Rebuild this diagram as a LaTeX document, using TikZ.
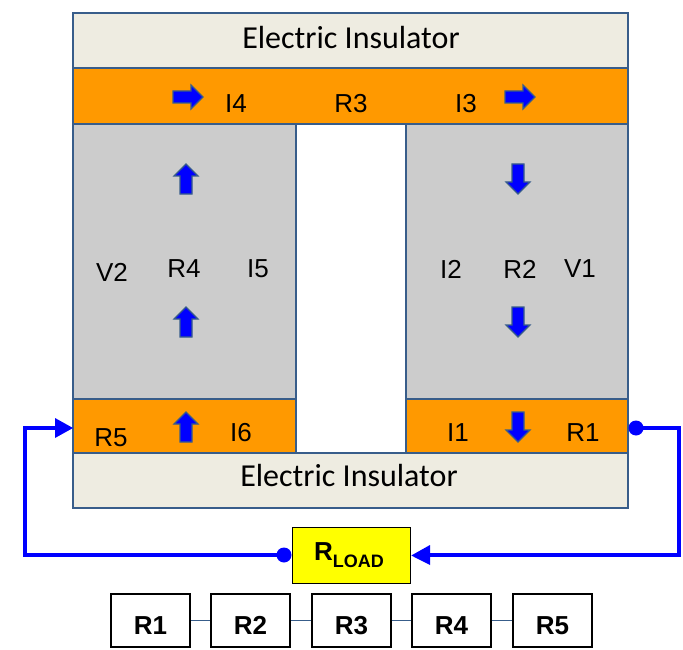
\documentclass[tikz,border=0pt]{standalone}
\usepackage{fontspec}
\setmainfont{Liberation Sans}
\newfontfamily\calib{Carlito}
\usetikzlibrary{arrows.meta}
\definecolor{insfill}{RGB}{238,236,225}
\definecolor{orng}{RGB}{255,153,0}
\definecolor{grayc}{RGB}{204,204,204}
\definecolor{edgec}{RGB}{56,93,138}
\definecolor{wireb}{RGB}{0,0,255}
\definecolor{loady}{RGB}{255,255,0}
\tikzset{
  blk/.style={draw=edgec, line width=1.3pt},
  lbl/.style={font=\fontsize{26}{26}\selectfont, inner sep=0pt, anchor=center},
  ins/.style={font=\calib\fontsize{32}{32}\selectfont, inner sep=0pt, anchor=center},
  wire/.style={draw=wireb, line width=3.5pt},
  dot/.style={circle, fill=wireb, inner sep=0pt, minimum size=15pt},
  rbox/.style={draw=black, line width=1.6pt, fill=white, minimum width=79pt, minimum height=53pt, text height=28pt, text depth=0pt, inner sep=0pt, font=\bfseries\fontsize{26}{26}\selectfont},
  loadbox/.style={draw=black, line width=1.6pt, fill=loady, minimum width=118pt, minimum height=56pt, inner sep=0pt},
  barrow/.pic={\filldraw[fill=wireb, draw=edgec, line width=1.2pt, line join=miter] (-15,-6) -- (3,-6) -- (3,-12) -- (15,0) -- (3,12) -- (3,6) -- (-15,6) -- cycle;}
}
\begin{document}
\begin{tikzpicture}[x=1pt, y=-1pt]
\useasboundingbox (0,0) rectangle (683,650);
% block
\filldraw[blk, fill=insfill] (73,13) rectangle (628,68);
\filldraw[blk, fill=orng] (73,68) rectangle (628,124);
\filldraw[blk, fill=grayc] (73,124) rectangle (296,399);
\filldraw[blk, fill=grayc] (406,124) rectangle (628,399);
\filldraw[blk, fill=orng] (73,399) rectangle (296,453);
\filldraw[blk, fill=orng] (406,399) rectangle (628,453);
\filldraw[blk, fill=insfill] (73,453) rectangle (628,508);
\node[ins] (tins) at (351,38) {Electric Insulator};
\node[ins] (bins) at (349,476) {Electric Insulator};
% top band
\pic at (188,97) {barrow};
\node[lbl] (i4) at (236,104) {I4};
\node[lbl] (r3t) at (351,104) {R3};
\node[lbl] (i3) at (466,104) {I3};
\pic at (520,97) {barrow};
% left column
\pic[rotate=90] at (186,179) {barrow};
\pic[rotate=90] at (186,322) {barrow};
\node[lbl] (v2) at (112,272) {V2};
\node[lbl] (r4t) at (184,269) {R4};
\node[lbl] (i5) at (258,269) {I5};
% right column
\pic[rotate=-90] at (518,179) {barrow};
\pic[rotate=-90] at (518,322) {barrow};
\node[lbl] (i2) at (451,269) {I2};
\node[lbl] (r2t) at (520,269) {R2};
\node[lbl] (v1) at (580,269) {V1};
% bottom bands
\node[lbl] (r5t) at (111,438) {R5};
\pic[rotate=90] at (186,427) {barrow};
\node[lbl] (i6) at (241,433) {I6};
\node[lbl] (i1) at (458,433) {I1};
\pic[rotate=-90] at (518,427) {barrow};
\node[lbl] (r1t) at (583,433) {R1};
% load circuit
\coordinate (inL) at (73,428);
\node[dot] (dotR) at (636,428) {};
\node[loadbox] (load) at (351.5,555.5) {};
\node[font=\bfseries, inner sep=0pt, anchor=base west] (loadtxt) at (314,560) {\fontsize{26}{26}\selectfont R\raisebox{-7pt}{\fontsize{18}{18}\selectfont LOAD}};
\node[dot] (dotL) at (284,555) {};
\draw[wire] (dotL.center) -- (25,555) -- (25,428) -- (58,428);
\fill[wireb] (inL) -- (55,418) -- (55,438) -- cycle;
\draw[wire] (dotR.center) -- (679,428) -- (679,555) -- (428,555);
\fill[wireb] (load.east) -- (430,545) -- (430,565) -- cycle;
% series boxes
\node[rbox] (b1) at (150.5,620.5) {R1};
\node[rbox] (b2) at (250.5,620.5) {R2};
\node[rbox] (b3) at (351.5,620.5) {R3};
\node[rbox] (b4) at (451.5,620.5) {R4};
\node[rbox] (b5) at (552.5,620.5) {R5};
\draw[edgec, line width=1.3pt] (b1) -- (b2);
\draw[edgec, line width=1.3pt] (b2) -- (b3);
\draw[edgec, line width=1.3pt] (b3) -- (b4);
\draw[edgec, line width=1.3pt] (b4) -- (b5);
\end{tikzpicture}
\end{document}
